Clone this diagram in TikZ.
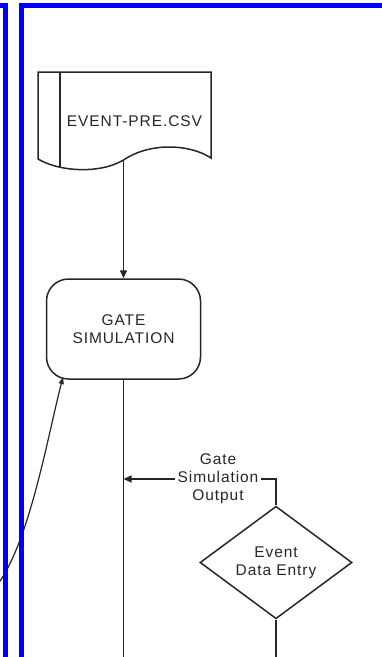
\documentclass[tikz,border=0pt]{standalone}
\usepackage{fontspec}
\setmainfont{Liberation Sans}[LetterSpace=6]
\usetikzlibrary{shapes.geometric,arrows.meta}
\begin{document}
\begin{tikzpicture}[x=1pt,y=-1pt,
  flow/.style={draw=black!85, line width=1.5pt},
  tip/.style={-{Triangle[length=8pt,width=7pt]}},
  smalltip/.style={-{Triangle[length=7pt,width=5pt]}},
  txt/.style={font=\fontsize{15.5}{18}\selectfont, align=center, text=black!85},
  frame/.style={draw=blue, line width=5pt}]
\useasboundingbox (0,0) rectangle (381,657);

% document shape
\draw[flow] (38,72) -- (211,72) -- (211,158)
  .. controls (190,144) and (150,142) .. (123.5,160)
  .. controls (100,174) and (60,172) .. (38,159) -- cycle;
\draw[flow] (60,72) -- (60,168);
\node[txt] (doc) at (134.5,121) {EVENT-PRE.CSV};
\coordinate (docb) at (123.5,160);

\node[txt, draw=black!85, line width=1.5pt, rounded corners=22pt, minimum width=154pt, minimum height=100pt, inner sep=0] (gate) at (123.5,329) {GATE\\SIMULATION};
\draw[flow, tip] (docb) -- (gate.north);

\coordinate (bot1) at (123.5,670);
\draw[flow] (gate.south) -- (bot1);
\coordinate (junc) at (123.5,479);

\node[txt, diamond, draw=black!85, line width=1.5pt, minimum width=152pt, minimum height=99pt, inner sep=0] (entry) at (276,562.5) {Event\\Data Entry};
\node[txt, inner sep=2pt] (out) at (218,479) {Gate\\Simulation\\Output};
\coordinate (elbow) at (276,479);
\draw[flow] (entry.north) -- (elbow) -- (out.east);
\draw[flow, tip] (out.west) -- (junc);
\coordinate (bot2) at (276,670);
\draw[flow] (entry.south) -- (bot2);

% incoming curve
\coordinate (cs) at (-2,584);
\coordinate (ce) at (63,377);
\draw[flow, line width=1.2pt, smalltip] (cs) .. controls (30,540) and (48,435) .. (ce);

% frames
\draw[frame] (-10,5.5) -- (5.5,5.5) -- (5.5,680);
\draw[frame] (21.5,680) -- (21.5,5.5) -- (400,5.5);
\end{tikzpicture}
\end{document}
